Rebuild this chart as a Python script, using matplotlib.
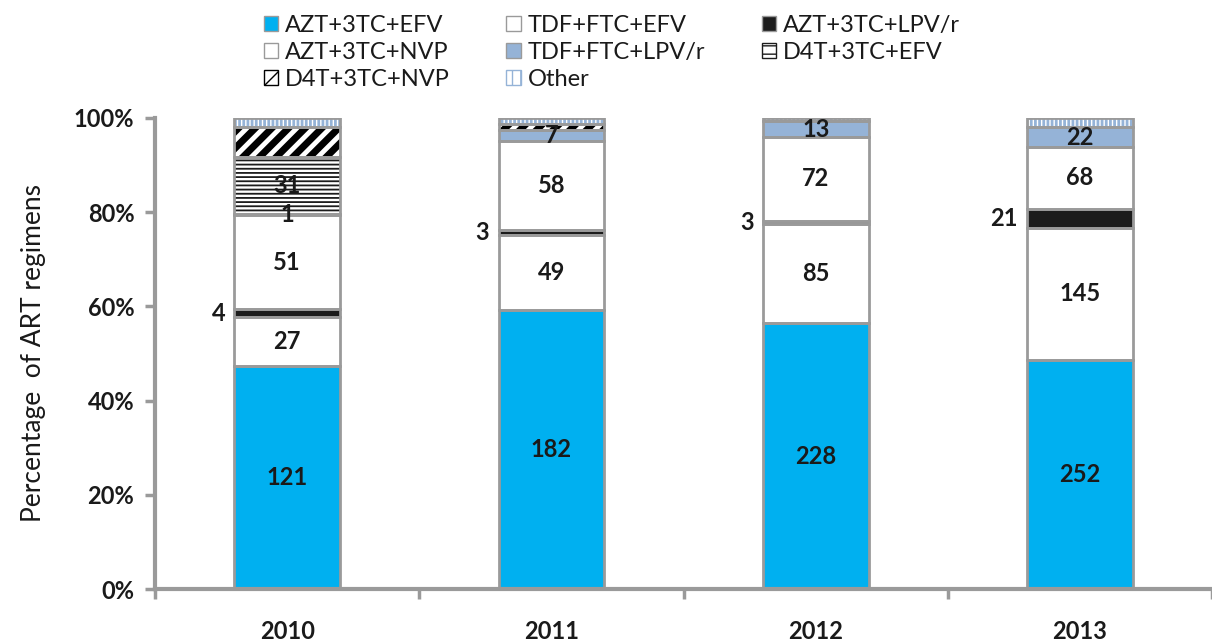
import numpy as np
import matplotlib
matplotlib.use("Agg")
import matplotlib.pyplot as plt
from matplotlib.patches import Patch

plt.rcParams['font.family'] = ['Lato', 'DejaVu Sans']

years = ["2010", "2011", "2012", "2013"]
regimens = ["AZT+3TC+EFV", "TDF+FTC+EFV", "AZT+3TC+LPV/r", "AZT+3TC+NVP",
            "TDF+FTC+LPV/r", "D4T+3TC+EFV", "D4T+3TC+NVP", "Other"]

# patient counts per regimen, per year
azt_efv = [121, 182, 228, 252]
tdf_efv = [27, 49, 85, 145]
azt_lpv = [4, 3, 3, 21]
azt_nvp = [51, 58, 72, 68]
tdf_lpv = [1, 7, 13, 22]
d4t_efv = [31, 0, 0, 0]
d4t_nvp = [16, 4, 0, 0]
other = [5, 4, 3, 10]

# which counts get a label (None = no label)
shown = [
    [121, 182, 228, 252],
    [27, 49, 85, 145],
    [4, 3, 3, 21],
    [51, 58, 72, 68],
    [1, 7, 13, 22],
    [31, None, None, None],
    [None, None, None, None],
    [None, None, None, None],
]
left_side = [False, False, True, False, False, False, False, False]

series = [azt_efv, tdf_efv, azt_lpv, azt_nvp, tdf_lpv, d4t_efv, d4t_nvp, other]
counts = np.array(series, dtype=float)
pct = counts / counts.sum(axis=0) * 100

styles = [
    dict(fc="#00B0F0", hatch=None, hc=None, hlw=1),
    dict(fc="white", hatch=None, hc=None, hlw=1),
    dict(fc="#1c1c1c", hatch=None, hc=None, hlw=1),
    dict(fc="white", hatch=None, hc=None, hlw=1),
    dict(fc="#95B3D7", hatch=None, hc=None, hlw=1),
    dict(fc="white", hatch="----", hc="#1c1c1c", hlw=1.3),
    dict(fc="white", hatch="//", hc="black", hlw=5),
    dict(fc="white", hatch="||||", hc="#95B3D7", hlw=2),
]
edge = "#9a9a9a"
txt = "#1a1a1a"

fig = plt.figure(figsize=(12.12, 6.44), dpi=100)
ax = fig.add_axes([0.128, 0.0854, 0.872, 0.7314])

x = np.arange(len(years)) + 0.5
w = 0.4
bottom = np.zeros(len(years))
for i, name in enumerate(regimens):
    st = styles[i]
    if st["hatch"]:
        with plt.rc_context({"hatch.linewidth": st["hlw"]}):
            ax.bar(x, pct[i], w, bottom=bottom, color=st["fc"], hatch=st["hatch"],
                   edgecolor=st["hc"], linewidth=0, zorder=2)
    else:
        ax.bar(x, pct[i], w, bottom=bottom, color=st["fc"], linewidth=0, zorder=2)
    ax.bar(x, pct[i], w, bottom=bottom, fill=False, edgecolor=edge,
           linewidth=2, zorder=3)
    for j in range(len(years)):
        lab = shown[i][j]
        if lab is None:
            continue
        yc = bottom[j] + pct[i][j] / 2
        if left_side[i]:
            ax.text(x[j] - w / 2 - 0.035, yc, str(lab), ha="right", va="center",
                    fontsize=17, fontweight="bold", color=txt, zorder=4)
        else:
            ax.text(x[j], yc, str(lab), ha="center", va="center",
                    fontsize=17, fontweight="bold", color=txt, zorder=4)
    bottom += pct[i]

ax.set_xlim(0, 4)
ax.set_ylim(0, 100)
ax.set_yticks(np.arange(0, 101, 20))
ax.set_yticklabels([f"{v}%" for v in range(0, 101, 20)], fontsize=17,
                   fontweight="bold", color=txt)
ax.set_xticks(x)
ax.set_xticklabels(years, fontsize=17, fontweight="bold", color=txt)
ax.set_xticks([0, 1, 2, 3, 4], minor=True)
ax.tick_params(axis="x", which="major", length=0, pad=22)
ax.tick_params(axis="x", which="minor", length=7, width=2.5, color=edge, direction="out")
ax.tick_params(axis="y", length=7, width=2.5, color=edge, direction="out", pad=8)
for s in ["top", "right"]:
    ax.spines[s].set_visible(False)
for s in ["left", "bottom"]:
    ax.spines[s].set_color(edge)
    ax.spines[s].set_linewidth(3)
ax.set_ylabel("Percentage  of ART regimens", fontsize=19, color=txt, labelpad=20)

handles = []
for i, name in enumerate(regimens):
    st = styles[i]
    if st["hatch"]:
        with plt.rc_context({"hatch.linewidth": 1}):
            handles.append(Patch(facecolor=st["fc"], hatch=st["hatch"][:2],
                                 edgecolor=st["hc"], label=name))
    else:
        handles.append(Patch(facecolor=st["fc"], edgecolor=edge, label=name))
# legend fills column by column; reorder so rows read like the reference
order = [0, 3, 6, 1, 4, 7, 2, 5]
fig.legend(handles=[handles[k] for k in order], loc="upper left",
           bbox_to_anchor=(0.200, 1.01), ncol=3, frameon=False, fontsize=17,
           handlelength=0.6, handleheight=0.6, handletextpad=0.3,
           columnspacing=2.4, labelspacing=0.25, labelcolor=txt)

fig.savefig("out.png", dpi=100)
